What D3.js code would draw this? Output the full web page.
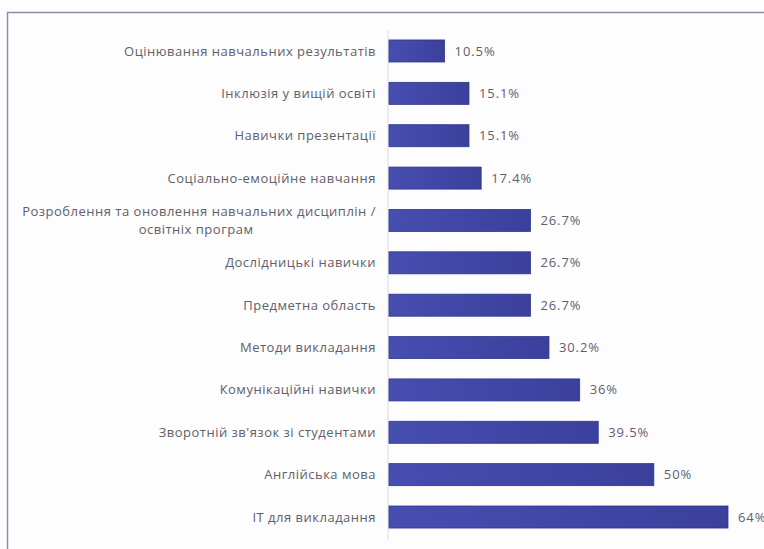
<!DOCTYPE html>
<html>
<head>
<meta charset="utf-8">
<script src="https://cdn.jsdelivr.net/npm/d3@7"></script>
<style>
  html, body { margin: 0; padding: 0; background: #fff; }
  svg { display: block; }
</style>
</head>
<body>
<script>
const categories = [
  "Оцінювання навчальних результатів",
  "Інклюзія у вищій освіті",
  "Навички презентації",
  "Соціально-емоційне навчання",
  "Розроблення та оновлення навчальних дисциплін /|освітніх програм",
  "Дослідницькі навички",
  "Предметна область",
  "Методи викладання",
  "Комунікаційні навички",
  "Зворотній зв'язок зі студентами",
  "Англійська мова",
  "ІТ для викладання"
];
const values = [10.5, 15.1, 15.1, 17.4, 26.7, 26.7, 26.7, 30.2, 36, 39.5, 50, 64];
const valueLabels = ["10.5%", "15.1%", "15.1%", "17.4%", "26.7%", "26.7%", "26.7%", "30.2%", "36%", "39.5%", "50%", "64%"];

const W = 764, H = 549;
const svg = d3.select("body").append("svg").attr("width", W).attr("height", H);

svg.append("rect").attr("x", 0).attr("y", 0).attr("width", W).attr("height", H).attr("fill", "#fdfdfd");
svg.append("line").attr("x1", 7).attr("x2", W).attr("y1", 12.5).attr("y2", 12.5)
  .attr("stroke", "#8a8fb0").attr("stroke-width", 1.5);
svg.append("line").attr("x1", 7.5).attr("x2", 7.5).attr("y1", 12).attr("y2", H)
  .attr("stroke", "#8a8fb0").attr("stroke-width", 1.5);

const x = d3.scaleLinear().domain([0, 64]).range([389, 728]);
const y = d3.scaleBand().domain(categories).range([29.8, 538.2])
  .paddingInner(0.48).paddingOuter(0.24);

const defs = svg.append("defs");
const grad = defs.append("linearGradient").attr("id", "barGrad")
  .attr("x1", "0%").attr("x2", "100%").attr("y1", "0%").attr("y2", "0%");
grad.append("stop").attr("offset", "0%").attr("stop-color", "#464eb0");
grad.append("stop").attr("offset", "100%").attr("stop-color", "#3b409c");

svg.append("line").attr("x1", 388).attr("x2", 388).attr("y1", 30).attr("y2", 540)
  .attr("stroke", "#dcdce4").attr("stroke-width", 1);

const data = categories.map((c, i) => ({ c, v: values[i], l: valueLabels[i] }));

svg.selectAll("rect.bar").data(data).join("rect")
  .attr("class", "bar")
  .attr("x", x(0))
  .attr("y", d => y(d.c))
  .attr("width", d => x(d.v) - x(0))
  .attr("height", y.bandwidth())
  .attr("fill", "url(#barGrad)")
  .attr("stroke", "#30358a").attr("stroke-width", 0.8);

const font = "'Open Sans', sans-serif";
const textColor = "#60606c";

svg.selectAll("text.val").data(data).join("text")
  .attr("class", "val")
  .attr("x", d => x(d.v) + 10)
  .attr("y", d => y(d.c) + y.bandwidth() / 2)
  .attr("dy", "0.35em")
  .attr("font-family", font)
  .attr("font-size", 13)
  .attr("letter-spacing", "0.9px")
  .attr("fill", textColor)
  .text(d => d.l);

const labelRight = 376;
function addLabel(xp, yp, anchor, str) {
  return svg.append("text")
    .attr("x", xp).attr("y", yp).attr("dy", "0.35em")
    .attr("text-anchor", anchor)
    .attr("font-family", font)
    .attr("font-size", 13)
    .attr("letter-spacing", "0.5px")
    .attr("fill", textColor)
    .text(str);
}
data.forEach(d => {
  const cy = y(d.c) + y.bandwidth() / 2;
  const lines = d.c.split("|");
  if (lines.length === 1) {
    addLabel(labelRight, cy, "end", lines[0]);
  } else {
    const t1 = addLabel(labelRight, cy - 9, "end", lines[0]);
    const w = t1.node().getComputedTextLength();
    addLabel(labelRight - w / 2 - 3, cy + 9, "middle", lines[1]);
  }
});
</script>
</body>
</html>
